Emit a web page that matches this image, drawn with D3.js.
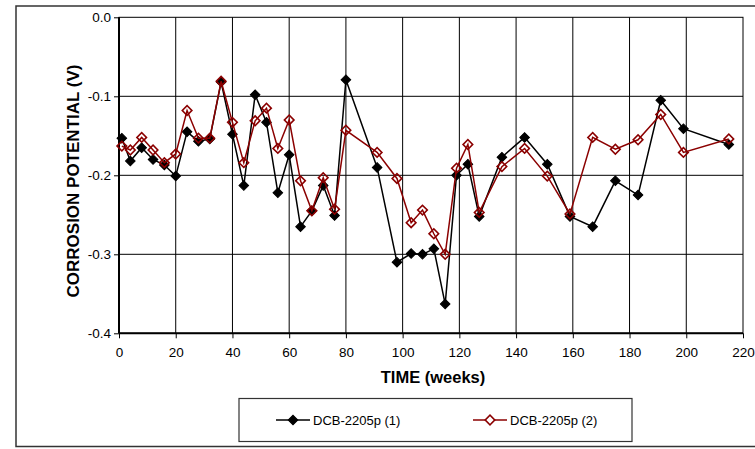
<!DOCTYPE html>
<html>
<head>
<meta charset="utf-8">
<script src="https://cdn.jsdelivr.net/npm/d3@7"></script>
<style>
  html, body { margin: 0; padding: 0; background: #fff; }
  svg { display: block; font-family: Arial, "Liberation Sans", sans-serif; }
</style>
</head>
<body>
<svg id="chart" width="755" height="449"></svg>
<script>
// ---- data ----
const weeks = [1, 4, 8, 12, 16, 20, 24, 28, 32, 36, 40, 44, 48, 52, 56, 60, 64, 68, 72, 76, 80,
  91, 98, 103, 107, 111, 115, 119, 123, 127, 135, 143, 151, 159, 167, 175, 183, 191, 199, 215];
const series1 = [-0.153, -0.182, -0.165, -0.180, -0.187, -0.201, -0.145, -0.157, -0.154, -0.082,
  -0.148, -0.213, -0.098, -0.133, -0.222, -0.174, -0.265, -0.245, -0.213, -0.251, -0.079,
  -0.190, -0.310, -0.299, -0.300, -0.293, -0.363, -0.200, -0.186, -0.252, -0.177, -0.152,
  -0.186, -0.252, -0.265, -0.207, -0.225, -0.105, -0.141, -0.161];
const series2 = [-0.163, -0.168, -0.152, -0.168, -0.184, -0.173, -0.118, -0.153, -0.153, -0.081,
  -0.133, -0.184, -0.131, -0.115, -0.166, -0.130, -0.207, -0.245, -0.203, -0.243, -0.143,
  -0.171, -0.204, -0.260, -0.244, -0.274, -0.300, -0.191, -0.161, -0.247, -0.189, -0.166,
  -0.201, -0.249, -0.152, -0.167, -0.155, -0.123, -0.171, -0.154];
const seriesNames = ["DCB-2205p (1)", "DCB-2205p (2)"];
const xTicks = [0, 20, 40, 60, 80, 100, 120, 140, 160, 180, 200, 220];
const yTicks = [0, -0.1, -0.2, -0.3, -0.4];
const xTitle = "TIME (weeks)";
const yTitle = "CORROSION POTENTIAL (V)";

// ---- layout ----
const svg = d3.select("#chart");
const L = 119, R = 743, T = 17.3, B = 333.3;
const x = d3.scaleLinear().domain([0, 220]).range([L, R]);
const y = d3.scaleLinear().domain([-0.4, 0]).range([B, T]);
const RED = "#8B0000";

// outer chart frame
svg.append("rect").attr("x", 16).attr("y", 6).attr("width", 780).attr("height", 440.5)
  .attr("fill", "none").attr("stroke", "#333").attr("stroke-width", 1.5);

// gridlines
const grid = svg.append("g");
grid.selectAll("line.v").data(xTicks.filter(d => d > 0 && d < 220)).join("line")
  .attr("x1", d => x(d)).attr("x2", d => x(d)).attr("y1", T).attr("y2", B)
  .attr("stroke", "#000").attr("stroke-width", 1);
grid.selectAll("line.h").data(yTicks.filter(d => d < 0 && d > -0.4)).join("line")
  .attr("x1", L).attr("x2", R).attr("y1", d => y(d)).attr("y2", d => y(d))
  .attr("stroke", "#000").attr("stroke-width", 1);
// plot frame (top, right)
svg.append("rect").attr("x", L).attr("y", T).attr("width", R - L).attr("height", B - T)
  .attr("fill", "none").attr("stroke", "#000").attr("stroke-width", 1);

// axes
const fmt = d => d.toFixed(1);
const yAxis = svg.append("g").attr("transform", `translate(${L},0)`)
  .call(d3.axisLeft(y).tickValues(yTicks).tickSize(5).tickPadding(3).tickFormat(fmt));
const xAxis = svg.append("g").attr("transform", `translate(0,${B})`)
  .call(d3.axisBottom(x).tickValues(xTicks).tickSize(5).tickPadding(9).tickFormat(d3.format("d")));
[yAxis, xAxis].forEach(g => {
  g.select(".domain").attr("stroke", "#000").attr("stroke-width", 2);
  g.selectAll(".tick line").attr("stroke", "#000").attr("stroke-width", 1);
  g.selectAll(".tick text").attr("fill", "#000")
    .style("font-size", "13.5px").style("font-family", "Arial, 'Liberation Sans', sans-serif");
});
xAxis.select(".domain").attr("d", `M${L},0H${R}`);
yAxis.select(".domain").attr("d", `M0,${B}V${T}`);

// axis titles
svg.append("text").attr("transform", "translate(79,181) rotate(-90)")
  .attr("text-anchor", "middle").style("font-size", "17px").style("font-weight", "bold")
  .text(yTitle);
svg.append("text").attr("x", 433).attr("y", 383)
  .attr("text-anchor", "middle").style("font-size", "16.5px").style("font-weight", "bold")
  .text(xTitle);

// series
const diamond = d3.symbol().type(d3.symbolSquare).size(46);
const line = d3.line().x(d => x(d[0])).y(d => y(d[1]));
const data1 = weeks.map((w, i) => [w, series1[i]]);
const data2 = weeks.map((w, i) => [w, series2[i]]);

function drawSeries(data, color, filled) {
  const g = svg.append("g");
  g.append("path").datum(data).attr("d", line)
    .attr("fill", "none").attr("stroke", color).attr("stroke-width", 1.5);
  g.selectAll("path.m").data(data).join("path").attr("class", "m")
    .attr("d", diamond)
    .attr("transform", d => `translate(${x(d[0])},${y(d[1])}) rotate(45)`)
    .attr("fill", filled ? color : "none")
    .attr("stroke", color).attr("stroke-width", filled ? 1 : 1.6);
}
drawSeries(data1, "#000", true);
drawSeries(data2, RED, false);

// legend
const lg = svg.append("g");
lg.append("rect").attr("x", 239).attr("y", 398.5).attr("width", 393).attr("height", 43)
  .attr("fill", "#fff").attr("stroke", "#333").attr("stroke-width", 1.2);
const legendItems = [
  { name: seriesNames[0], color: "#000", filled: true, x0: 276 },
  { name: seriesNames[1], color: RED, filled: false, x0: 473 }
];
legendItems.forEach(it => {
  lg.append("line").attr("x1", it.x0).attr("x2", it.x0 + 34).attr("y1", 420).attr("y2", 420)
    .attr("stroke", it.color).attr("stroke-width", 1.5);
  lg.append("path").attr("d", diamond)
    .attr("transform", `translate(${it.x0 + 17},420) rotate(45)`)
    .attr("fill", it.filled ? it.color : "#fff").attr("stroke", it.color)
    .attr("stroke-width", it.filled ? 1 : 1.6);
  lg.append("text").attr("x", it.x0 + 37).attr("y", 424.5)
    .style("font-size", "13px").attr("fill", "#000").text(it.name);
});
</script>
</body>
</html>
